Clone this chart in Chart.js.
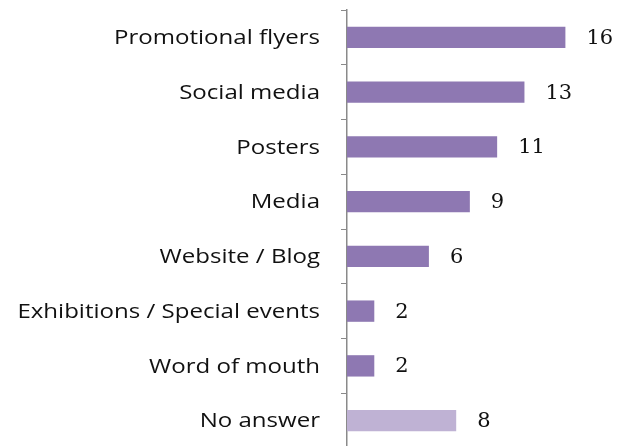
<!DOCTYPE html>
<html>
<head>
<meta charset="utf-8">
<script src="https://cdn.jsdelivr.net/npm/chart.js@4"></script>
<style>
  html, body { margin: 0; padding: 0; background: #fff; overflow: hidden; }
  #wrap { width: 620px; height: 446px; overflow: hidden; position: relative; }
  canvas { display: block; }
</style>
</head>
<body>
<div id="wrap"><canvas id="c" width="620" height="462"></canvas></div>
<script>
const categories = [
  "Promotional flyers",
  "Social media",
  "Posters",
  "Media",
  "Website / Blog",
  "Exhibitions / Special events",
  "Word of mouth",
  "No answer"
];
const counts = [16, 13, 11, 9, 6, 2, 2, 8];
const barColors = ["#8e78b2", "#8e78b2", "#8e78b2", "#8e78b2", "#8e78b2", "#8e78b2", "#8e78b2", "#bfb2d4"];

const AXIS_X = 347;

// Category names, right-aligned left of the axis, and the counts past each bar end
const textLabels = {
  id: "textLabels",
  afterDatasetsDraw(chart) {
    const ctx = chart.ctx;
    const meta = chart.getDatasetMeta(0);
    ctx.save();
    ctx.textBaseline = "middle";

    ctx.font = "20.5px 'Open Sans', sans-serif";
    ctx.fillStyle = "#111";
    ctx.textAlign = "right";
    const stretch = 206 / ctx.measureText(categories[0]).width;
    meta.data.forEach((bar, i) => {
      ctx.save();
      ctx.translate(AXIS_X - 27, bar.y + 1);
      ctx.scale(stretch, 1);
      ctx.fillText(categories[i], 0, 0);
      ctx.restore();
    });

    ctx.font = "21px 'DejaVu Serif', serif";
    ctx.fillStyle = "#111";
    ctx.textAlign = "left";
    meta.data.forEach((bar, i) => {
      ctx.fillText(String(counts[i]), bar.x + 21, bar.y + 1);
    });
    ctx.restore();
  }
};

new Chart(document.getElementById("c"), {
  type: "bar",
  data: {
    labels: categories,
    datasets: [{
      data: counts,
      backgroundColor: barColors,
      borderWidth: 0,
      categoryPercentage: 1,
      barPercentage: 0.39
    }]
  },
  options: {
    indexAxis: "y",
    responsive: false,
    animation: false,
    layout: { padding: { top: 10, right: 0, bottom: 14, left: 0 } },
    plugins: { legend: { display: false }, tooltip: { enabled: false } },
    scales: {
      x: {
        display: false,
        min: 0,
        max: 20
      },
      y: {
        offset: true,
        grid: {
          offset: true,
          drawOnChartArea: false,
          drawTicks: true,
          tickLength: 6,
          color: "#8a8a8a"
        },
        border: { display: true, color: "#8a8a8a", width: 1.5 },
        ticks: { display: false },
        afterFit(scale) { scale.width = AXIS_X; }
      }
    }
  },
  plugins: [textLabels]
});
</script>
</body>
</html>
